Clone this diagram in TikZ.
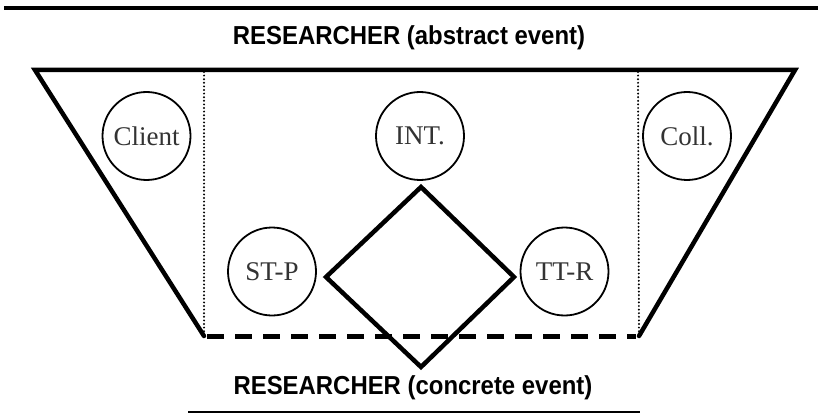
\documentclass[tikz,border=0pt]{standalone}
\usepackage{fontspec}
\setmainfont{Liberation Serif}
\newfontfamily\titlefont[FakeStretch=0.92]{Liberation Sans}
\begin{document}
\begin{tikzpicture}[x=1pt,y=-1pt,
  thickline/.style={line width=4.5pt,line cap=round,line join=miter},
  dotline/.style={line width=2.2pt,dash pattern=on 0pt off 3.6pt,line cap=round},
  dashline/.style={line width=5pt,dash pattern=on 17pt off 11pt},
  role/.style={circle,draw,line width=1.8pt,minimum size=88pt,inner sep=0pt,
    font=\fontsize{27}{27}\selectfont,text=black!80},
  title/.style={font=\titlefont\bfseries\fontsize{26}{26}\selectfont,anchor=center}]
\useasboundingbox (0,0) rectangle (818,414);
% rules
\coordinate (tl) at (4,8);
\coordinate (tr) at (818,8);
\draw[line width=4pt] (tl) -- (tr);
\coordinate (bl) at (188,412);
\coordinate (br) at (640,412);
\draw[line width=2.5pt] (bl) -- (br);
% titles
\node[title] (abs) at (409,38) {RESEARCHER (abstract event)};
\node[title] (con) at (413,388) {RESEARCHER (concrete event)};
% trapezoid
\coordinate (A) at (35,70);
\coordinate (B) at (795,70);
\coordinate (C) at (639,336);
\coordinate (D) at (204,336);
\coordinate (D1) at (204,72);
\coordinate (C1) at (638,72);
\coordinate (E1) at (207,336);
\coordinate (E2) at (636,336);
\draw[dotline] (D1) -- (D);
\draw[dotline] (C1) -- (C);
\draw[dashline] (E1) -- (E2);
\draw[thickline] (D) -- (A) -- (B) -- (C);
% diamond
\coordinate (dt) at (421,187);
\coordinate (dr) at (514,277);
\coordinate (db) at (421,367);
\coordinate (dl) at (326,277);
\draw[thickline,line cap=butt] (dt) -- (dr) -- (db) -- (dl) -- cycle;
% roles
\node[role] (client) at (146.5,136) {Client};
\node[role] (int) at (420,136) {INT.};
\node[role] (coll) at (687,136) {Coll.};
\node[role] (stp) at (272,271.5) {ST-P};
\node[role] (ttr) at (564.5,271.5) {TT-R};
\end{tikzpicture}
\end{document}
